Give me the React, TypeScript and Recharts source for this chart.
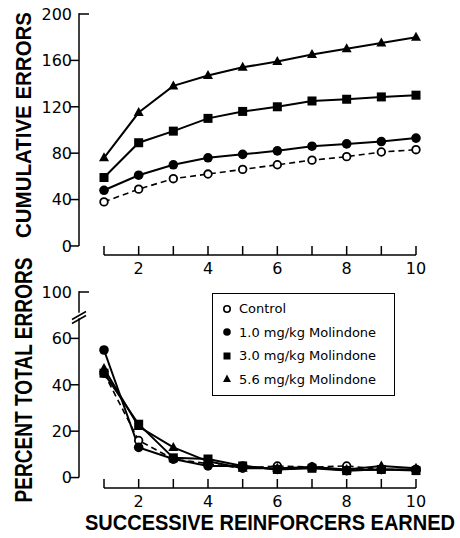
import {
  LineChart,
  Line,
  XAxis,
  YAxis,
  ReferenceLine,
  Legend,
  Label,
} from 'recharts';

// successive reinforcers earned (x axis)
const reinforcers = [1, 2, 3, 4, 5, 6, 7, 8, 9, 10];

// cumulative errors, top panel
const cumControl = [38, 49, 58, 62, 66, 70, 74, 77, 81, 83];
const cumMol10 = [48, 61, 70, 76, 79, 82, 86, 88, 90, 93];
const cumMol30 = [59, 89, 99, 110, 116, 120, 125, 126.5, 128.5, 130];
const cumMol56 = [76, 115, 138, 147, 154, 159, 165, 170, 175, 180];

// percent of total errors, bottom panel
const pctControl = [45, 16, 8, 6, 4, 5, 4.5, 5, 3.5, 3.5];
const pctMol10 = [55, 13, 8, 5, 5, 3.5, 4.5, 3, 3.5, 3.5];
const pctMol30 = [45, 23, 8.5, 8, 5, 3.5, 4, 3, 3.5, 3];
const pctMol56 = [47, 22, 13, 7, 4, 4, 4.5, 3.5, 5, 4];

const cumTicks = [0, 40, 80, 120, 160, 200];
// the bottom axis is broken: the top tick sits one step above 60 but reads 100
const pctTicks = [0, 20, 40, 60, 80];
const pctTickLabels: Record<number, string> = { 0: '0', 20: '20', 40: '40', 60: '60', 80: '100' };
const xLabelTicks = [2, 4, 6, 8, 10];

const seriesNames = ['Control', '1.0 mg/kg Molindone', '3.0 mg/kg Molindone', '5.6 mg/kg Molindone'];

const cumData = reinforcers.map((r, i) => ({
  r,
  control: cumControl[i],
  m10: cumMol10[i],
  m30: cumMol30[i],
  m56: cumMol56[i],
}));

const pctData = reinforcers.map((r, i) => ({
  r,
  control: pctControl[i],
  m10: pctMol10[i],
  m30: pctMol30[i],
  m56: pctMol56[i],
}));

const FONT = '"DejaVu Sans", sans-serif';
const TITLE_FONT = '"Liberation Sans", Arial, sans-serif';
const AXIS_X = 79;

// top panel layout
const TOP_H = 280;
const TOP_MARGIN = 14;
const TOP_XAXIS_H = 25;
const CUM_MIN = -7.8;
const CUM_PPU = (TOP_H - TOP_MARGIN - TOP_XAXIS_H) / (200 - CUM_MIN);

// bottom panel layout
const BOT_TOP = 240;
const BOT_H = 298;
const BOT_MARGIN = 52;
const BOT_XAXIS_H = 50;
const PCT_MIN = -4.5;
const PCT_PPU = (BOT_H - BOT_MARGIN - BOT_XAXIS_H) / (80 - PCT_MIN);

// markers
const openCircle = (p: any) => (
  <circle key={`oc-${p.index}`} cx={p.cx} cy={p.cy} r={3.8} fill="#fff" stroke="#000" strokeWidth={1.8} />
);
const filledCircle = (p: any) => (
  <circle key={`fc-${p.index}`} cx={p.cx} cy={p.cy} r={4.8} fill="#000" />
);
const filledSquare = (p: any) => (
  <rect key={`sq-${p.index}`} x={p.cx - 4.5} y={p.cy - 4.5} width={9} height={9} fill="#000" />
);
const filledTriangle = (p: any) => (
  <polygon
    key={`tr-${p.index}`}
    points={`${p.cx},${p.cy - 5.5} ${p.cx - 5},${p.cy + 3.5} ${p.cx + 5},${p.cy + 3.5}`}
    fill="#000"
  />
);

const XTick = (props: any) => {
  const { x, y, payload } = props;
  const v = payload.value;
  return (
    <g>
      <line x1={x} x2={x} y1={y - 9} y2={y} stroke="#000" strokeWidth={1.5} />
      {xLabelTicks.includes(v) && (
        <text x={x} y={y + 13} dy="0.36em" textAnchor="middle" fontFamily={FONT} fontSize={16} fill="#000">
          {v}
        </text>
      )}
    </g>
  );
};

// y ticks; the top tick also draws the axis line down to zero (and the break marks)
const makeYTick = (topValue: number, ppu: number, labels?: Record<number, string>, breakAt?: number) =>
  (props: any) => {
    const { y, payload } = props;
    const v = payload.value;
    const isTop = v === topValue;
    const by = breakAt !== undefined ? y + (topValue - breakAt) * ppu : 0;
    return (
      <g>
        <line
          x1={isTop ? AXIS_X : AXIS_X - 9}
          x2={isTop ? AXIS_X + 10 : AXIS_X}
          y1={y}
          y2={y}
          stroke="#000"
          strokeWidth={1.5}
        />
        {isTop && (
          <line x1={AXIS_X} x2={AXIS_X} y1={y - 0.75} y2={y + topValue * ppu} stroke="#000" strokeWidth={1.5} />
        )}
        {isTop && breakAt !== undefined && (
          <g stroke="#000" strokeWidth={1.5}>
            <line x1={AXIS_X - 1.5} x2={AXIS_X + 1.5} y1={by} y2={by - 4} stroke="#fff" strokeWidth={4} />
            <line x1={AXIS_X - 7} x2={AXIS_X + 7} y1={by + 2} y2={by - 6} />
            <line x1={AXIS_X - 7} x2={AXIS_X + 7} y1={by + 6} y2={by - 2} />
          </g>
        )}
        <text x={AXIS_X - 7} y={y} dy="0.36em" textAnchor="end" fontFamily={FONT} fontSize={16} fill="#000">
          {labels ? labels[v] : v}
        </text>
      </g>
    );
  };

const title = (text: string, cx: number, cy: number, len: number, rotate: boolean, thick = 1.3) => () => (
  <text
    x={0}
    y={0}
    transform={`translate(${cx}, ${cy}) rotate(${rotate ? -90 : 0}) scale(1, ${thick})`}
    textAnchor="middle"
    dominantBaseline="central"
    fontFamily={TITLE_FONT}
    fontSize={17}
    fontWeight="bold"
    textLength={len}
    lengthAdjust="spacingAndGlyphs"
    fill="#000"
  >
    {text}
  </text>
);

const LegendBox = () => {
  const markers = [
    <circle cx={6} cy={6} r={3.2} fill="#fff" stroke="#000" strokeWidth={1.6} />,
    <circle cx={6} cy={6} r={3.8} fill="#000" />,
    <rect x={2.5} y={2.5} width={7} height={7} fill="#000" />,
    <polygon points="6,1.5 2,9 10,9" fill="#000" />,
  ];
  return (
    <div
      style={{
        border: '1.5px solid #000',
        background: '#fff',
        padding: '3px 6px 4px 8px',
        fontFamily: FONT,
        fontSize: 13,
        color: '#000',
        boxSizing: 'border-box',
        width: 183,
      }}
    >
      {seriesNames.map((name, i) => (
        <div key={name} style={{ display: 'flex', alignItems: 'center', height: 23.5 }}>
          <svg width={12} height={12} style={{ marginRight: 6 }}>
            {markers[i]}
          </svg>
          <span>{name}</span>
        </div>
      ))}
    </div>
  );
};

const seriesLines = (dot: any[]) => [
  <Line
    key="control"
    dataKey="control"
    stroke="#000"
    strokeWidth={1.6}
    strokeDasharray="6 4"
    dot={dot[0]}
    isAnimationActive={false}
  />,
  <Line key="m10" dataKey="m10" stroke="#000" strokeWidth={2} dot={dot[1]} isAnimationActive={false} />,
  <Line key="m30" dataKey="m30" stroke="#000" strokeWidth={2} dot={dot[2]} isAnimationActive={false} />,
  <Line key="m56" dataKey="m56" stroke="#000" strokeWidth={2} dot={dot[3]} isAnimationActive={false} />,
];

const dots = [openCircle, filledCircle, filledSquare, filledTriangle];

export default function App() {
  return (
    <div style={{ position: 'absolute', left: 0, top: 0, width: 460, height: 538, background: '#fff' }}>
      <div style={{ position: 'absolute', left: 0, top: 0 }}>
        <LineChart
          width={460}
          height={TOP_H}
          data={cumData}
          margin={{ top: TOP_MARGIN, right: 34, left: 0, bottom: 0 }}
        >
          <XAxis
            dataKey="r"
            type="number"
            domain={[1, 10]}
            ticks={reinforcers}
            padding={{ left: 25, right: 10 }}
            axisLine={false}
            tickLine={false}
            tickSize={0}
            tickMargin={0}
            height={TOP_XAXIS_H}
            tick={<XTick />}
            interval={0}
          />
          <YAxis
            type="number"
            domain={[CUM_MIN, 200]}
            ticks={cumTicks}
            allowDataOverflow
            width={AXIS_X}
            axisLine={false}
            tickLine={false}
            tick={makeYTick(200, CUM_PPU)}
            interval={0}
          >
            <Label content={title('CUMULATIVE ERRORS', 23, 125, 226, true, 1.3)} />
          </YAxis>
          <ReferenceLine
            segment={[{ x: 1, y: CUM_MIN }, { x: 10, y: CUM_MIN }]}
            stroke="#000"
            strokeWidth={1.5}
            ifOverflow="visible"
          />
          {seriesLines(dots)}
        </LineChart>
      </div>
      <div style={{ position: 'absolute', left: 0, top: BOT_TOP }}>
        <LineChart
          width={460}
          height={BOT_H}
          data={pctData}
          margin={{ top: BOT_MARGIN, right: 34, left: 0, bottom: 0 }}
        >
          <XAxis
            dataKey="r"
            type="number"
            domain={[1, 10]}
            ticks={reinforcers}
            padding={{ left: 25, right: 10 }}
            axisLine={false}
            tickLine={false}
            tickSize={0}
            tickMargin={0}
            height={BOT_XAXIS_H}
            tick={<XTick />}
            interval={0}
          >
            <Label content={title('SUCCESSIVE REINFORCERS EARNED', 270, 523 - BOT_TOP, 370, false, 1.25)} />
          </XAxis>
          <YAxis
            type="number"
            domain={[PCT_MIN, 80]}
            ticks={pctTicks}
            allowDataOverflow
            width={AXIS_X}
            axisLine={false}
            tickLine={false}
            tick={makeYTick(80, PCT_PPU, pctTickLabels, 69)}
            interval={0}
          >
            <Label content={title('PERCENT TOTAL ERRORS', 23, 380 - BOT_TOP, 245, true, 1.4)} />
          </YAxis>
          <ReferenceLine
            segment={[{ x: 1, y: PCT_MIN }, { x: 10, y: PCT_MIN }]}
            stroke="#000"
            strokeWidth={1.5}
            ifOverflow="visible"
          />
          <Legend
            layout="vertical"
            verticalAlign="middle"
            align="center"
            wrapperStyle={{ top: 293 - BOT_TOP, left: 212, width: 183 }}
            content={<LegendBox />}
          />
          {seriesLines(dots)}
        </LineChart>
      </div>
    </div>
  );
}
